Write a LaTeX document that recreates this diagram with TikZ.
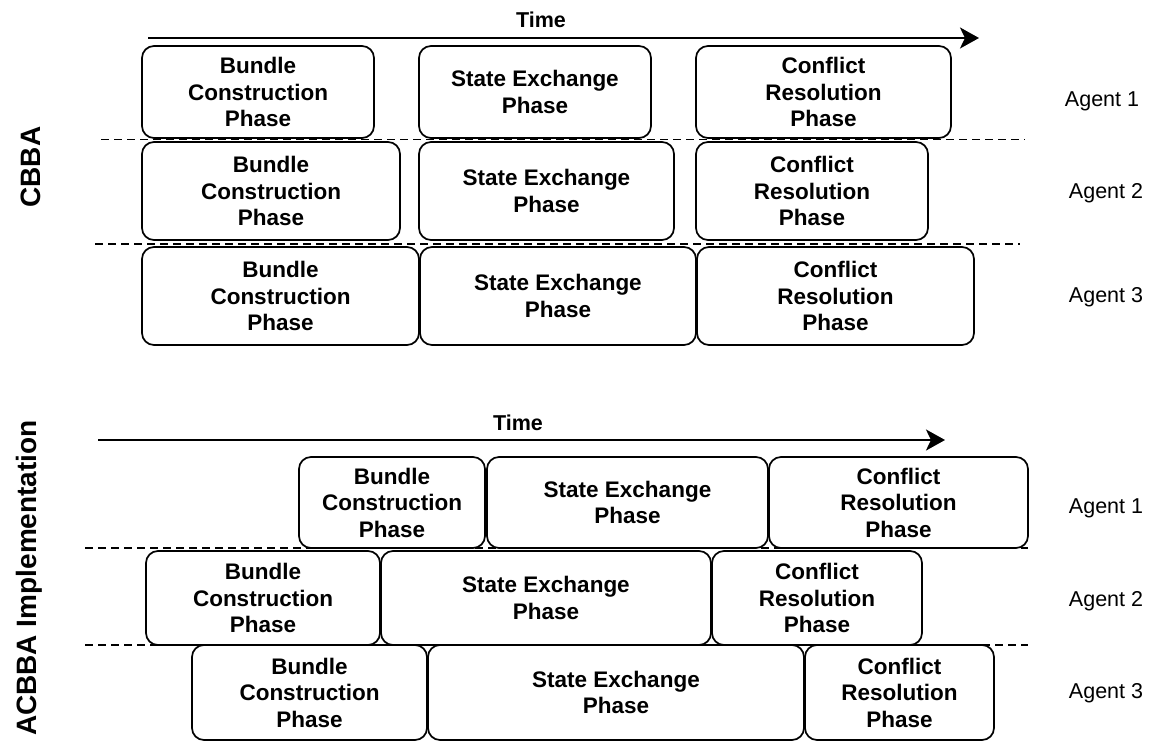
\documentclass[tikz,border=0pt]{standalone}
\usepackage{fontspec}
\setmainfont{Liberation Sans}
\usetikzlibrary{arrows.meta}

\begin{document}
\begin{tikzpicture}[
  x=1pt, y=-1pt,
  phase/.style={draw, rounded corners=12pt, line width=1.7pt, fill=white, align=center, inner sep=0pt,
    font=\bfseries\fontsize{22.5}{26.5}\selectfont},
  agent/.style={font=\fontsize{21.5}{26}\selectfont},
  title/.style={font=\bfseries\fontsize{28}{32}\selectfont, rotate=90},
  timelbl/.style={font=\bfseries\fontsize{21.5}{26}\selectfont},
  timearr/.style={-{Stealth[length=19pt, width=21pt, inset=5pt]}, line width=2.4pt},
  sep/.style={dashed, dash pattern=on 8pt off 5pt, line width=1.9pt}
]
\useasboundingbox (0,0) rectangle (1159,743);

% CBBA
\node[title] (cbba) at (31,167) {CBBA};
\node[timelbl] (time) at (541,20) {Time};
\coordinate (t0) at (148,38);
\coordinate (t1) at (979,38);
\draw[timearr] (t0) -- (t1);

\coordinate (d1a) at (101,139.5);
\coordinate (d1b) at (1025,139.5);
\coordinate (d2a) at (95,244);
\coordinate (d2b) at (1020,244);
\draw[sep] (d1a) -- (d1b);
\draw[sep] (d2a) -- (d2b);

% Agent 1
\node[phase, minimum width=232pt, minimum height=92pt] (bc1) at (258,92) {Bundle\\Construction\\Phase};
\node[phase, minimum width=232pt, minimum height=92pt] (se1) at (535,92) {State Exchange\\Phase};
\node[phase, minimum width=255pt, minimum height=92pt] (cr1) at (823.5,92) {Conflict\\Resolution\\Phase};
% Agent 2
\node[phase, minimum width=258pt, minimum height=98pt] (bc2) at (271,191) {Bundle\\Construction\\Phase};
\node[phase, minimum width=255pt, minimum height=98pt] (se2) at (546.5,191) {State Exchange\\Phase};
\node[phase, minimum width=232pt, minimum height=98pt] (cr2) at (812,191) {Conflict\\Resolution\\Phase};
% Agent 3
\node[phase, minimum width=277pt, minimum height=98pt] (bc3) at (280.5,296) {Bundle\\Construction\\Phase};
\node[phase, minimum width=276pt, minimum height=98pt] (se3) at (558,296) {State Exchange\\Phase};
\node[phase, minimum width=277pt, minimum height=98pt] (cr3) at (835.5,296) {Conflict\\Resolution\\Phase};

\node[agent] (ag1) at (1102,101) {Agent 1};
\node[agent] (ag2) at (1106,193) {Agent 2};
\node[agent] (ag3) at (1106,297) {Agent 3};

% ACBBA implementation
\node[title] (acbba) at (29,578) {ACBBA Implementation};
\node[timelbl] (atime) at (518,423) {Time};
\coordinate (at0) at (98,440);
\coordinate (at1) at (945,440);
\draw[timearr] (at0) -- (at1);

\coordinate (ad1a) at (85,548);
\coordinate (ad1b) at (1028,548);
\coordinate (ad2a) at (85,645);
\coordinate (ad2b) at (1028,645);
\draw[sep] (ad1a) -- (ad1b);
\draw[sep] (ad2a) -- (ad2b);

% Agent 1
\node[phase, minimum width=186pt, minimum height=91pt] (abc1) at (392,502.5) {Bundle\\Construction\\Phase};
\node[phase, minimum width=281pt, minimum height=91pt] (ase1) at (627.5,502.5) {State Exchange\\Phase};
\node[phase, minimum width=259pt, minimum height=91pt] (acr1) at (898.5,502.5) {Conflict\\Resolution\\Phase};
% Agent 2
\node[phase, minimum width=234pt, minimum height=94pt] (abc2) at (263,598) {Bundle\\Construction\\Phase};
\node[phase, minimum width=330pt, minimum height=94pt] (ase2) at (546,598) {State Exchange\\Phase};
\node[phase, minimum width=210pt, minimum height=94pt] (acr2) at (817,598) {Conflict\\Resolution\\Phase};
% Agent 3
\node[phase, minimum width=235pt, minimum height=95pt] (abc3) at (309.5,692.5) {Bundle\\Construction\\Phase};
\node[phase, minimum width=376pt, minimum height=95pt] (ase3) at (616,692.5) {State Exchange\\Phase};
\node[phase, minimum width=189pt, minimum height=95pt] (acr3) at (899.5,692.5) {Conflict\\Resolution\\Phase};

\node[agent] (aag1) at (1106,508) {Agent 1};
\node[agent] (aag2) at (1106,601) {Agent 2};
\node[agent] (aag3) at (1106,693) {Agent 3};

\end{tikzpicture}
\end{document}
